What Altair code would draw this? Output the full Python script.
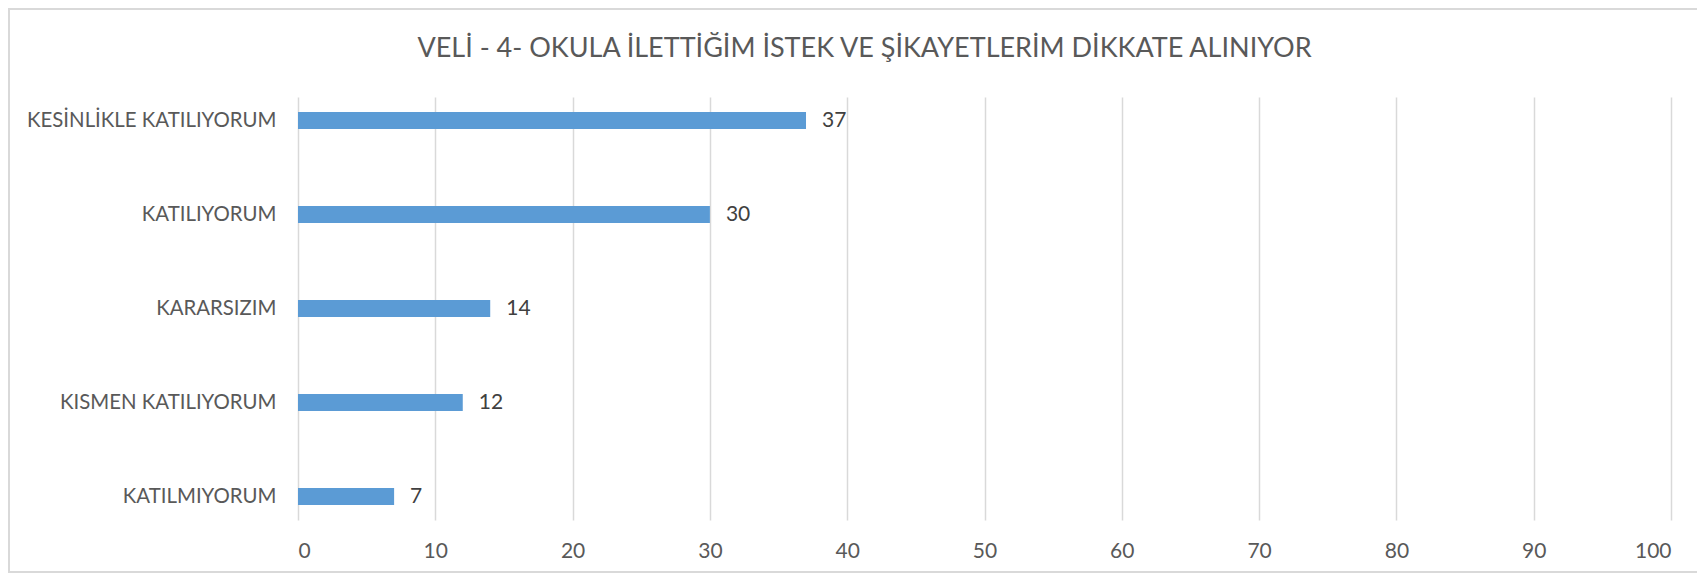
import altair as alt
import pandas as pd

categories = ["KESİNLİKLE KATILIYORUM", "KATILIYORUM", "KARARSIZIM",
              "KISMEN KATILIYORUM", "KATILMIYORUM"]
values = [37, 30, 14, 12, 7]
x_ticks = [0, 10, 20, 30, 40, 50, 60, 70, 80, 90, 100]
title_text = "VELİ - 4- OKULA İLETTİĞİM İSTEK VE ŞİKAYETLERİM DİKKATE ALINIYOR"

df = pd.DataFrame({"kategori": categories, "deger": values})

W, H = 1373, 423
PAD = {"left": 290, "top": 89, "right": 26, "bottom": 53}
FONT = "Lato"
GREY = "#595959"
LINE = "#d9d9d9"

y_enc = alt.Y(
    "kategori:N", sort=categories, title=None,
    scale=alt.Scale(paddingInner=0.5, paddingOuter=0),
    axis=alt.Axis(labelFont=FONT, labelFontSize=20.4, labelColor=GREY,
                  labelPadding=22, labelLimit=0, ticks=False, domain=False,
                  grid=False),
)
x_enc = alt.X(
    "deger:Q", title=None,
    scale=alt.Scale(domain=[0, 100], nice=False),
    axis=alt.Axis(values=x_ticks, grid=True, gridColor=LINE, gridWidth=1.5,
                  ticks=False, domain=False, labelFont=FONT, labelFontSize=21,
                  labelColor=GREY, labelPadding=31, labelBaseline="middle"),
)

bars = alt.Chart(df).mark_bar(size=17, color="#5b9bd5").encode(x=x_enc, y=y_enc)

labels = alt.Chart(df).mark_text(
    align="left", baseline="middle", dx=16, font=FONT, fontSize=21, color="#404040"
).encode(x="deger:Q", y=alt.Y("kategori:N", sort=categories), text="deger:Q")

total_h = PAD["top"] + H + PAD["bottom"]
one = pd.DataFrame({"k": [0]})
top_rule = alt.Chart(one).mark_rule(color=LINE, strokeWidth=2).encode(
    x=alt.value(-PAD["left"]), x2=alt.value(W + PAD["right"]),
    y=alt.value(-PAD["top"] + 1))
left_rule = alt.Chart(one).mark_rule(color=LINE, strokeWidth=2).encode(
    x=alt.value(-PAD["left"] + 1), y=alt.value(-PAD["top"]),
    y2=alt.value(total_h - PAD["top"]))
bottom_rule = alt.Chart(one).mark_rule(color=LINE, strokeWidth=2).encode(
    x=alt.value(-PAD["left"]), x2=alt.value(W + PAD["right"]),
    y=alt.value(total_h - PAD["top"] - 1))

chart = alt.layer(bars, labels, top_rule, left_rule, bottom_rule).properties(
    width=W, height=H,
    title=alt.TitleParams(title_text, font=FONT, fontSize=27, fontWeight="normal",
                          color=GREY, anchor="middle", frame="group", dx=-120,
                          offset=-77, baseline="alphabetic"),
    autosize=alt.AutoSizeParams(type="none"),
    padding=PAD,
    background="white",
).configure_view(stroke=None)

chart.save("out.html", embed_options={"renderer": "svg", "actions": False})
